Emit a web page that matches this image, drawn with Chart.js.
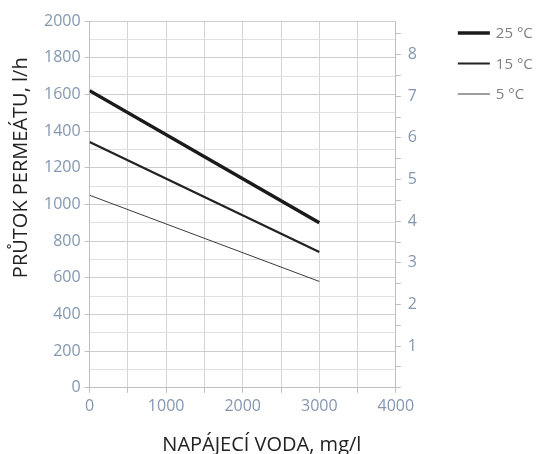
<!DOCTYPE html>
<html>
<head>
<meta charset="utf-8">
<script src="https://cdn.jsdelivr.net/npm/chart.js@4/dist/chart.umd.min.js"></script>
<style>
  html, body { margin: 0; padding: 0; background: #ffffff; }
  #wrap { width: 537px; height: 454px; }
</style>
</head>
<body>
<div id="wrap"><canvas id="c" width="537" height="454"></canvas></div>
<script>
// ---- data ----
const feedWater = [0, 3000];            // mg/l
const flow25 = [1620, 900];             // l/h at 25 °C
const flow15 = [1340, 740];             // l/h at 15 °C
const flow5  = [1050, 580];             // l/h at 5 °C
const seriesLabels = ['25 °C', '15 °C', '5 °C'];
const xTitle = 'NAPÁJECÍ VODA, mg/l';
const yTitle = 'PRŮTOK PERMEÁTU, l/h';
const LPH_PER_GPM = 227.12;

const FONT = '"Open Sans", "Liberation Sans", sans-serif';
const TICK_COLOR = '#8497b0';
const AXIS_COLOR = '#bfbfbf';

function pts(ys) { return feedWater.map((x, i) => ({ x: x, y: ys[i] })); }

const decor = {
  id: 'decor',
  afterDraw(chart) {
    const ctx = chart.ctx;
    const xs = chart.scales.x, ys = chart.scales.y, ca = chart.chartArea;
    ctx.save();
    ctx.fillStyle = '#222222';
    ctx.font = '20px ' + FONT;
    ctx.textAlign = 'center';
    ctx.textBaseline = 'middle';
    // x title
    ctx.fillText(xTitle, xs.getPixelForValue(2250), ca.bottom + 57);
    // y title
    ctx.save();
    ctx.translate(21, ys.getPixelForValue(1200));
    ctx.rotate(-Math.PI / 2);
    ctx.fillText(yTitle, 0, 0);
    ctx.restore();
    // legend
    ctx.font = '15px ' + FONT;
    ctx.textAlign = 'left';
    chart.data.datasets.forEach((ds, i) => {
      const y = ca.top + 12 + i * 30.5;
      const x0 = ca.right + 62;
      ctx.strokeStyle = ds.borderColor;
      ctx.lineWidth = ds.borderWidth;
      ctx.beginPath();
      ctx.moveTo(x0, y);
      ctx.lineTo(x0 + 32, y);
      ctx.stroke();
      ctx.fillStyle = '#7f7f7f';
      ctx.fillText(ds.label, x0 + 38, y + 1);
    });
    ctx.restore();
  }
};

new Chart(document.getElementById('c'), {
  type: 'line',
  data: {
    datasets: [
      { label: seriesLabels[0], data: pts(flow25), borderColor: '#1a1a1a', borderWidth: 3.5, pointRadius: 0, tension: 0, fill: false },
      { label: seriesLabels[1], data: pts(flow15), borderColor: '#222222', borderWidth: 2.2, pointRadius: 0, tension: 0, fill: false },
      { label: seriesLabels[2], data: pts(flow5),  borderColor: '#3a3a3a', borderWidth: 1,   pointRadius: 0, tension: 0, fill: false }
    ]
  },
  options: {
    responsive: false,
    animation: false,
    devicePixelRatio: 1,
    layout: { padding: { left: 40, right: 113, top: 21, bottom: 34 } },
    plugins: { legend: { display: false }, tooltip: { enabled: false } },
    scales: {
      x: {
        type: 'linear', min: 0, max: 4000,
        border: { color: AXIS_COLOR, width: 1 },
        grid: {
          color: '#d4d4d4', tickColor: AXIS_COLOR, tickLength: 5
        },
        ticks: {
          stepSize: 500, autoSkip: false, maxRotation: 0,
          color: TICK_COLOR, font: { family: FONT, size: 16 }, padding: 4,
          callback: v => (v % 1000 === 0 ? String(v) : '')
        }
      },
      y: {
        type: 'linear', position: 'left', min: 0, max: 2000,
        border: { color: AXIS_COLOR, width: 1 },
        grid: {
          color: c => (c.tick && c.tick.value % 200 === 0 ? '#cdcdcd' : '#e0e0e0'),
          tickColor: c => (c.tick && c.tick.value % 200 === 0 ? AXIS_COLOR : 'rgba(0,0,0,0)'),
          tickLength: 5
        },
        ticks: {
          stepSize: 100, autoSkip: false,
          color: TICK_COLOR, font: { family: FONT, size: 16 }, padding: 4,
          callback: v => (v % 200 === 0 ? String(v) : '')
        }
      },
      y2: {
        type: 'linear', position: 'right', min: 0, max: 2000 / LPH_PER_GPM,
        border: { color: AXIS_COLOR, width: 1 },
        grid: { drawOnChartArea: false, tickColor: AXIS_COLOR, tickLength: 5 },
        ticks: {
          stepSize: 0.5, autoSkip: false, includeBounds: false,
          color: TICK_COLOR, font: { family: FONT, size: 16 }, padding: 7,
          callback: v => (Number.isInteger(v) && v > 0 ? String(v) : '')
        }
      }
    }
  },
  plugins: [decor]
});
</script>
</body>
</html>
